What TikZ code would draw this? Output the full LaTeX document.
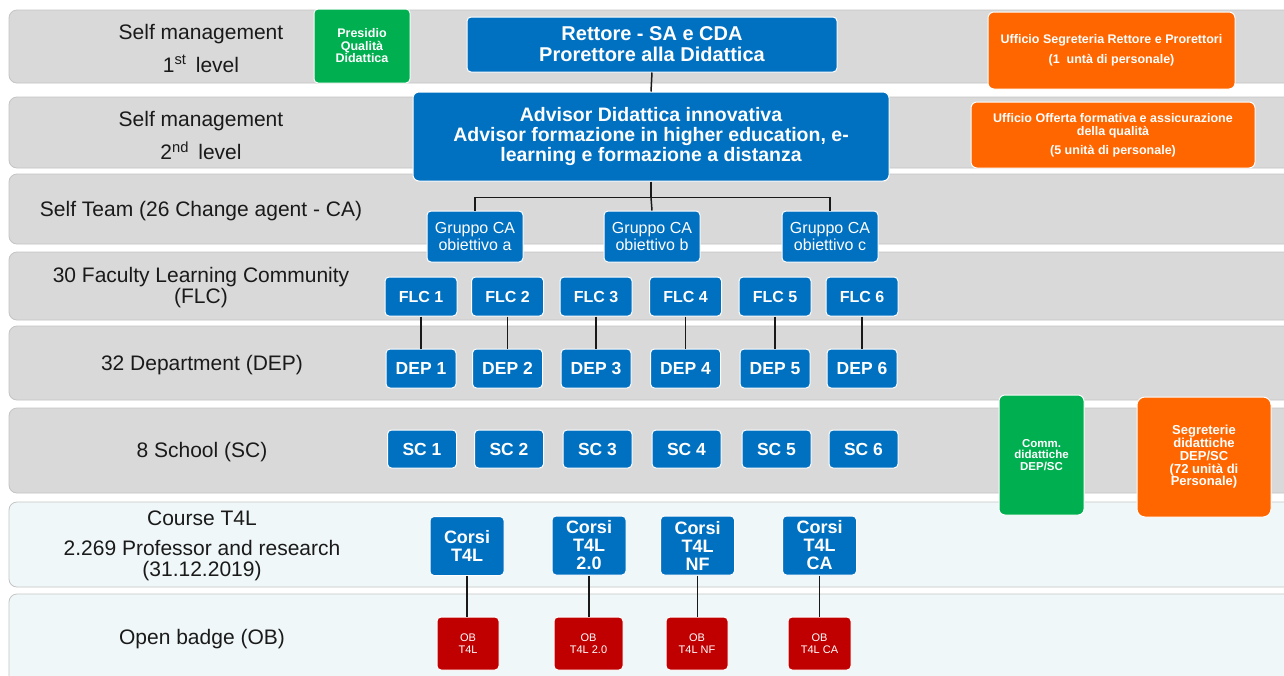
\documentclass[tikz,border=0pt]{standalone}
\usepackage{fontspec}
\setmainfont{Liberation Sans}
\definecolor{myblue}{HTML}{0070C0}
\definecolor{mygreen}{HTML}{00B050}
\definecolor{myorange}{HTML}{FF6600}
\definecolor{myred}{HTML}{C00000}
\definecolor{bandgray}{HTML}{D9D9D9}
\definecolor{bandlight}{HTML}{F0F7F9}
\definecolor{bandline}{HTML}{C4C4C4}
\definecolor{labeltext}{HTML}{1A1A1A}
\begin{document}
\begin{tikzpicture}[x=1pt,y=-1pt,
  band/.style={fill=bandgray,draw=bandline,line width=0.8pt,rounded corners=8pt},
  lband/.style={band,fill=bandlight},
  lab/.style={font=\fontsize{21}{21}\selectfont,align=center,text=labeltext,inner sep=0pt,yshift=-2.5pt},
  box/.style={rectangle,draw=white,line width=1pt,rounded corners=4pt,text=white,align=center,inner sep=0pt},
  bluebox/.style={box,fill=myblue},
  greenbox/.style={box,fill=mygreen},
  orangebox/.style={box,fill=myorange,rounded corners=6pt},
  redbox/.style={box,fill=myred},
  flcbox/.style={bluebox,minimum width=72pt,minimum height=39pt,font=\bfseries\fontsize{16}{16}\selectfont},
  depbox/.style={bluebox,minimum width=70pt,minimum height=39pt,font=\bfseries\fontsize{17.5}{17.5}\selectfont},
  scbox/.style={bluebox,minimum width=69pt,minimum height=38pt,font=\bfseries\fontsize{17.5}{17.5}\selectfont},
  grpbox/.style={bluebox,minimum width=96pt,minimum height=51pt,font=\fontsize{16}{17}\selectfont},
  corsibox/.style={bluebox,minimum width=74pt,minimum height=59pt,font=\bfseries\fontsize{18}{18}\selectfont},
  obbox/.style={redbox,minimum height=53pt,font=\fontsize{11}{12}\selectfont},
  conn/.style={draw=black!90,line width=1.5pt}
]
\useasboundingbox (0,0) rectangle (1284,675);
\clip (0,0) rectangle (1284,675);
\fill[white] (0,0) rectangle (1284,675);

% bands
\draw[band] (9,10) rectangle (1310,83);
\draw[band] (9,97) rectangle (1310,168);
\draw[band] (9,174) rectangle (1310,244);
\draw[band] (9,252) rectangle (1310,320);
\draw[band] (9,326) rectangle (1310,400);
\draw[band] (9,408) rectangle (1310,493);
\draw[lband] (9,502) rectangle (1310,587);
\draw[lband] (9,594) rectangle (1310,690);

% labels
\node[lab] (l1) at (201,46) {Self management\\[10pt]1\textsuperscript{st}\, level};
\node[lab] (l2) at (201,133) {Self management\\[10pt]2\textsuperscript{nd}\, level};
\node[lab] (l3) at (201,209) {Self Team (26 Change agent - CA)};
\node[lab] (l4) at (201,285) {30 Faculty Learning Community\\(FLC)};
\node[lab] (l5) at (202,363) {32 Department (DEP)};
\node[lab] (l6) at (202,450) {8 School (SC)};
\node[lab] (l7) at (202,543) {Course T4L\\[9pt]2.269 Professor and research\\(31.12.2019)};
\node[lab] (l8) at (202,637) {Open badge (OB)};

% top level
\node[greenbox,minimum width=96pt,minimum height=74pt,font=\bfseries\fontsize{12.5}{12.5}\selectfont] (pq) at (362,46) {Presidio\\Qualità\\Didattica};
\node[bluebox,minimum width=370pt,minimum height=55pt,font=\bfseries\fontsize{20}{21}\selectfont] (rett) at (652,44.5) {Rettore - SA e CDA\\Prorettore alla Didattica};
\node[orangebox,minimum width=247pt,minimum height=77pt,font=\bfseries\fontsize{12.5}{20}\selectfont] (useg) at (1111.5,50.5) {Ufficio Segreteria Rettore e Prorettori\\(1~ untà di personale)};
\node[bluebox,minimum width=476pt,minimum height=89pt,rounded corners=6pt,font=\bfseries\fontsize{19.5}{20}\selectfont] (adv) at (651,136.5) {Advisor Didattica innovativa\\Advisor formazione in higher education, e-\\learning e formazione a distanza};
\node[orangebox,minimum width=284pt,minimum height=66pt,font=\bfseries\fontsize{12.5}{13.5}\selectfont] (uoff) at (1113,135) {Ufficio Offerta formativa e assicurazione\\della qualità\\[5pt](5 unità di personale)};

% gruppi
\node[grpbox] (ga) at (475,236.5) {Gruppo CA\\obiettivo a};
\node[grpbox] (gb) at (652,236.5) {Gruppo CA\\obiettivo b};
\node[grpbox] (gc) at (830,236.5) {Gruppo CA\\obiettivo c};

% FLC
\node[flcbox] (f1) at (421,296.5) {FLC 1};
\node[flcbox] (f2) at (507.5,296.5) {FLC 2};
\node[flcbox] (f3) at (596,296.5) {FLC 3};
\node[flcbox] (f4) at (685.5,296.5) {FLC 4};
\node[flcbox] (f5) at (775,296.5) {FLC 5};
\node[flcbox] (f6) at (862,296.5) {FLC 6};

% DEP
\node[depbox] (d1) at (421,368.5) {DEP 1};
\node[depbox] (d2) at (507.5,368.5) {DEP 2};
\node[depbox] (d3) at (596,368.5) {DEP 3};
\node[depbox] (d4) at (685.5,368.5) {DEP 4};
\node[depbox] (d5) at (775,368.5) {DEP 5};
\node[depbox] (d6) at (862,368.5) {DEP 6};

% SC
\node[scbox] (s1) at (422,449) {SC 1};
\node[scbox] (s2) at (509,449) {SC 2};
\node[scbox] (s3) at (597.5,449) {SC 3};
\node[scbox] (s4) at (686.5,449) {SC 4};
\node[scbox] (s5) at (776.5,449) {SC 5};
\node[scbox] (s6) at (863.5,449) {SC 6};

% side boxes
\node[greenbox,minimum width=85pt,minimum height=120pt,rounded corners=6pt,font=\bfseries\fontsize{11.5}{11.5}\selectfont] (comm) at (1041.5,455) {Comm.\\didattiche\\DEP/SC};
\node[orangebox,minimum width=134pt,minimum height=120pt,rounded corners=8pt,font=\bfseries\fontsize{13}{12.8}\selectfont] (segr) at (1204,457) {Segreterie\\didattiche\\DEP/SC\\(72 unità di\\Personale)};

% corsi
\node[corsibox] (c1) at (467,546) {Corsi\\T4L};
\node[corsibox] (c2) at (589,545.5) {Corsi\\T4L\\2.0};
\node[corsibox] (c3) at (697.5,545.5) {Corsi\\T4L\\NF};
\node[corsibox] (c4) at (819.5,545.5) {Corsi\\T4L\\CA};

% OB
\node[obbox,minimum width=62pt] (o1) at (468,643.5) {OB\\T4L};
\node[obbox,minimum width=69pt] (o2) at (588.5,643.5) {OB\\T4L 2.0};
\node[obbox,minimum width=62pt] (o3) at (697,643.5) {OB\\T4L NF};
\node[obbox,minimum width=63pt] (o4) at (819.5,643.5) {OB\\T4L CA};

% connectors
\draw[conn] (rett.south) -- (adv.north);
\draw[conn] (adv.south) -- ++(0,16) coordinate (hub);
\draw[conn] (hub) -| (ga.north);
\draw[conn] (hub) -| (gc.north);
\draw[conn] (hub) -- (gb.north);
\foreach \i in {1,...,6}{
  \draw[conn] (f\i.south) -- (f\i.south |- d\i.north);
}
\draw[conn] (c1.south) -- (c1.south |- o1.north);
\draw[conn] (c2.south) -- (c2.south |- o2.north);
\draw[conn] (c3.south) -- (c3.south |- o3.north);
\draw[conn] (c4.south) -- (c4.south |- o4.north);
\end{tikzpicture}
\end{document}
